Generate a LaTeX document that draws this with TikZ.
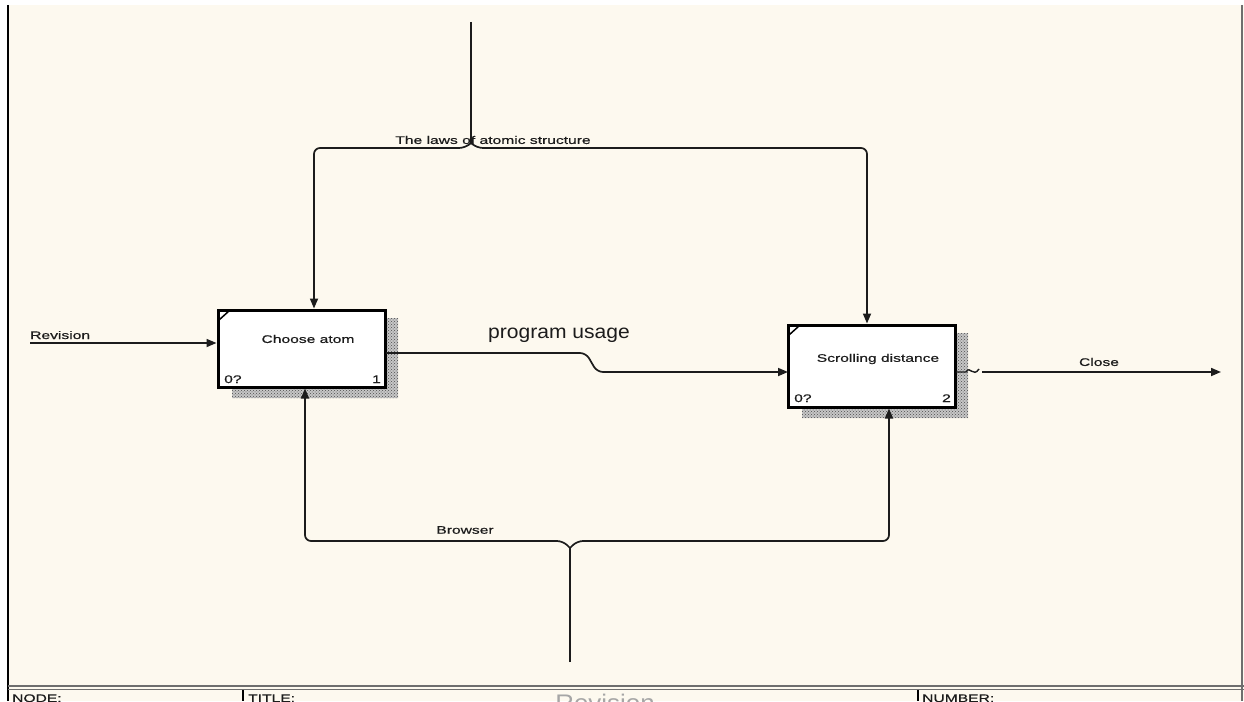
\documentclass[tikz,border=0pt]{standalone}
\usepackage{fontspec}
\usetikzlibrary{arrows.meta,patterns}
\newfontfamily\lblfont[FakeStretch=1.42,FakeBold=0.5]{Liberation Sans}
\newfontfamily\bigfont[FakeStretch=1.08]{Liberation Sans}
\definecolor{paper}{HTML}{FDF9EF}
\definecolor{ink}{HTML}{1C1C1C}
\definecolor{frame}{HTML}{6E6E6E}

\begin{document}
\begin{tikzpicture}[x=1pt,y=-1pt,
  lbl/.style={font=\lblfont\fontsize{11}{13}\selectfont, text=ink, inner sep=0pt},
  biglbl/.style={font=\bigfont\fontsize{19.5}{22}\selectfont, text=ink, inner sep=0pt},
  actbox/.style={draw=black, line width=3pt, fill=white, inner sep=0pt},
  flow/.style={draw=ink, line width=1.7pt, rounded corners=6pt},
  tip/.style={-{Triangle[length=10pt,width=8pt]}},
  shade/.style={fill=gray!45, postaction={pattern=crosshatch dots, pattern color=gray!60!black}},
  cornermark/.style={draw=black, line width=1.5pt},
]
% sheet and frame
\clip (0,0) rectangle (1244,701);
\fill[white] (0,0) rectangle (1244,701);
\fill[paper] (8,5) rectangle (1244,701);
\draw[black, line width=2.2pt] (8,5) -- (8,701);
\draw[frame, line width=2pt] (1242,5) -- (1242,701);
\draw[frame, line width=1.2pt] (8,686) -- (1244,686);
\draw[frame, line width=1.2pt] (8,689.5) -- (1244,689.5);
\draw[black, line width=1.2pt] (243,690) -- (243,701);
\draw[black, line width=1.2pt] (918,690) -- (918,701);
\node[lbl, anchor=base west] (fnode) at (12,702) {NODE:};
\node[lbl, anchor=base west] (ftitle) at (248,702) {TITLE:};
\node[lbl, anchor=base west] (fnum) at (922,702) {NUMBER:};
\node[font=\bigfont\fontsize{24}{28}\selectfont, text=gray!70, anchor=base, inner sep=0pt] (ftxt) at (605,711) {Revision};

% drop shadows of the activity boxes
\path[shade] (386,318) -- (398,318) -- (398,398) -- (232,398) -- (232,388) -- (386,388) -- cycle;
\path[shade] (956,333) -- (968,333) -- (968,418) -- (802,418) -- (802,408) -- (956,408) -- cycle;

% activity boxes
\node[actbox, minimum width=167pt, minimum height=77pt] (b1) at (301.5,348.5) {};
\node[actbox, minimum width=167pt, minimum height=82pt] (b2) at (871.5,366) {};
\draw[cornermark] (219,320) -- (229,311);
\draw[cornermark] (789,335) -- (799,326);
\node[lbl] (b1name) at (308,339) {Choose atom};
\node[lbl, anchor=base west] (b1code) at (224,383) {0?};
\node[lbl, anchor=base east] (b1num) at (381,383) {1};
\node[lbl] (b2name) at (878,359) {Scrolling distance};
\node[lbl, anchor=base west] (b2code) at (794,402) {0?};
\node[lbl, anchor=base east] (b2num) at (951,402) {2};

% connector end points
\coordinate (rev) at (30,343);
\coordinate (ctl) at (471,22);
\coordinate (jt) at (471,143);
\coordinate (t1) at (314,148);
\coordinate (t2) at (867,148);
\coordinate (mech) at (570,662);
\coordinate (jb) at (570,548);
\coordinate (m1) at (305,541);
\coordinate (m2) at (889,541);
\coordinate (pu1) at (386,353);
\coordinate (pu2) at (788,372);
\coordinate (cl1) at (956,372);
\coordinate (cl2) at (982,372);
\coordinate (out) at (1221,372);

% input
\draw[flow, tip] (rev) -- (rev -| b1.west);
\node[lbl, anchor=base west] (revlbl) at (30,339) {Revision};

% control from above
\draw[flow] (ctl) -- (jt);
\draw[flow, tip] (jt) -- (465,148) -- (t1) -- (t1 |- b1.north);
\draw[flow, tip] (jt) -- (477,148) -- (t2) -- (t2 |- b2.north);
\node[lbl] (ctllbl) at (493,140) {The laws of atomic structure};

% mechanism from below
\draw[flow] (mech) -- (jb);
\draw[flow, tip] (jb) -- (563,541) -- (m1) -- (m1 |- b1.south);
\draw[flow, tip] (jb) -- (577,541) -- (m2) -- (m2 |- b2.south);
\node[lbl] (mechlbl) at (465,530) {Browser};

% output of box 1 into box 2
\draw[flow, tip] (pu1) -- (586,353) -- (597,372) -- (pu2);
\node[biglbl] (pulbl) at (559,335) {program usage};

% output of box 2
\draw[draw=ink, line width=1.4pt] (cl1) -- (966,372) .. controls (970,365) and (973,378) .. (979,369);
\draw[flow, tip] (cl2) -- (out);
\node[lbl] (cllbl) at (1099,362) {Close};
\end{tikzpicture}
\end{document}
